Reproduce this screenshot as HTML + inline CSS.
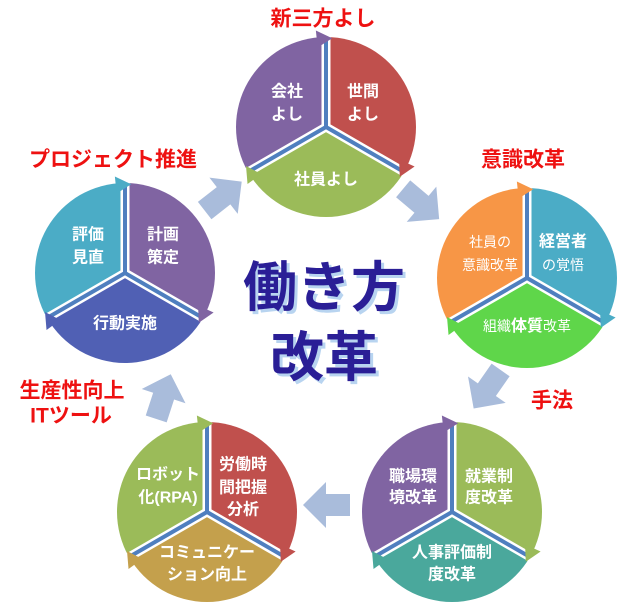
<!DOCTYPE html>
<html><head><meta charset="utf-8"><style>
html,body{margin:0;padding:0;background:#fff}
svg{display:block}
.t{font-family:"Liberation Sans","Noto Sans CJK JP",sans-serif;fill:#fff;font-weight:bold;font-size:16px;text-anchor:middle;dominant-baseline:central}
.s{font-weight:normal;font-size:14px}
.r{font-family:"Liberation Sans","Noto Sans CJK JP",sans-serif;fill:#ee1111;font-weight:bold;font-size:21px;text-anchor:middle;dominant-baseline:central}
.c{font-family:"Liberation Sans","Noto Sans CJK JP",sans-serif;fill:#2a1e96;font-weight:bold;font-size:54px;text-anchor:middle;dominant-baseline:central}
</style></head><body>
<svg width="624" height="611" viewBox="0 0 624 611" xmlns="http://www.w3.org/2000/svg">
<defs>
<g id="dv">
<path d="M0,0 L0,-92 M0,0 L79.7,46 M0,0 L-79.7,46" stroke="#fff" stroke-width="9"/>
<path d="M0,0 L0,-90 M0,0 L78,45 M0,0 L-78,45" stroke="#4f7fbf" stroke-width="4"/>
</g>
<polygon id="ar" points="-22,-11 2,-11 2,-23 25,0 2,23 2,11 -22,11" fill="#a9bcdb"/>
</defs>

<!-- connector arrows -->
<use href="#ar" transform="translate(222,197) rotate(-38)"/>
<use href="#ar" transform="translate(420,203) rotate(40)"/>
<use href="#ar" transform="translate(488,388) rotate(125)"/>
<use href="#ar" transform="translate(328,505) rotate(180)"/>
<use href="#ar" transform="translate(163,398) rotate(-72)"/>

<!-- top circle -->
<g transform="translate(326,127)">
<path d="M0,0 L0,-90 A90,90 0 0 1 77.94,45 Z" fill="#c0504d"/>
<path d="M0,0 L77.94,45 A90,90 0 0 1 -77.94,45 Z" fill="#9bbb59"/>
<path d="M0,0 L-77.94,45 A90,90 0 0 1 0,-90 Z" fill="#8064a2"/>
<use href="#dv"/>
<polygon points="73.08,32.54 88.61,39.45 73.78,49.77" fill="#c0504d"/>
<polygon points="-64.72,47.02 -78.47,57.01 -79.99,39.02" fill="#9bbb59"/>
<polygon points="-8.36,-79.56 -10.14,-96.47 6.21,-88.78" fill="#8064a2"/>
</g>
<text class="t" x="287" y="92">会社</text><text class="t" x="287" y="115">よし</text>
<text class="t" x="363" y="92">世間</text><text class="t" x="363" y="115">よし</text>
<text class="t" x="326" y="180">社員よし</text>

<!-- right circle -->
<g transform="translate(527,278)">
<path d="M0,0 L0,-90 A90,90 0 0 1 77.94,45 Z" fill="#4bacc6"/>
<path d="M0,0 L77.94,45 A90,90 0 0 1 -77.94,45 Z" fill="#5fd64a"/>
<path d="M0,0 L-77.94,45 A90,90 0 0 1 0,-90 Z" fill="#f79646"/>
<use href="#dv"/>
<polygon points="73.08,32.54 88.61,39.45 73.78,49.77" fill="#4bacc6"/>
<polygon points="-64.72,47.02 -78.47,57.01 -79.99,39.02" fill="#5fd64a"/>
<polygon points="-8.36,-79.56 -10.14,-96.47 6.21,-88.78" fill="#f79646"/>
</g>
<text class="t s" x="490" y="242">社員の</text><text class="t s" x="490" y="265">意識改革</text>
<text class="t" x="563" y="242">経営者</text><text class="t s" x="563" y="265">の覚悟</text>
<text class="t s" x="527" y="326">組織<tspan font-weight="bold" font-size="16">体質</tspan>改革</text>

<!-- bottom-right circle -->
<g transform="translate(452,512)">
<path d="M0,0 L0,-90 A90,90 0 0 1 77.94,45 Z" fill="#9bbb59"/>
<path d="M0,0 L77.94,45 A90,90 0 0 1 -77.94,45 Z" fill="#4aa89c"/>
<path d="M0,0 L-77.94,45 A90,90 0 0 1 0,-90 Z" fill="#8064a2"/>
<use href="#dv"/>
<polygon points="73.08,32.54 88.61,39.45 73.78,49.77" fill="#9bbb59"/>
<polygon points="-64.72,47.02 -78.47,57.01 -79.99,39.02" fill="#4aa89c"/>
<polygon points="-8.36,-79.56 -10.14,-96.47 6.21,-88.78" fill="#8064a2"/>
</g>
<text class="t" x="413" y="477">職場環</text><text class="t" x="413" y="498">境改革</text>
<text class="t" x="489" y="477">就業制</text><text class="t" x="489" y="498">度改革</text>
<text class="t" x="452" y="553">人事評価制</text><text class="t" x="452" y="575">度改革</text>

<!-- bottom-left circle -->
<g transform="translate(207,512)">
<path d="M0,0 L0,-90 A90,90 0 0 1 77.94,45 Z" fill="#c0504d"/>
<path d="M0,0 L77.94,45 A90,90 0 0 1 -77.94,45 Z" fill="#c4a04c"/>
<path d="M0,0 L-77.94,45 A90,90 0 0 1 0,-90 Z" fill="#9bbb59"/>
<use href="#dv"/>
<polygon points="73.08,32.54 88.61,39.45 73.78,49.77" fill="#c0504d"/>
<polygon points="-64.72,47.02 -78.47,57.01 -79.99,39.02" fill="#c4a04c"/>
<polygon points="-8.36,-79.56 -10.14,-96.47 6.21,-88.78" fill="#9bbb59"/>
</g>
<text class="t" x="168" y="475">ロボット</text><text class="t" x="168" y="498">化(RPA)</text>
<text class="t" x="243" y="465">労働時</text><text class="t" x="243" y="488">間把握</text><text class="t" x="243" y="510">分析</text>
<text class="t" x="207" y="553">コミュニケー</text><text class="t" x="207" y="575">ション向上</text>

<!-- left circle -->
<g transform="translate(125,273)">
<path d="M0,0 L0,-90 A90,90 0 0 1 77.94,45 Z" fill="#8064a2"/>
<path d="M0,0 L77.94,45 A90,90 0 0 1 -77.94,45 Z" fill="#5060b4"/>
<path d="M0,0 L-77.94,45 A90,90 0 0 1 0,-90 Z" fill="#4bacc6"/>
<use href="#dv"/>
<polygon points="73.08,32.54 88.61,39.45 73.78,49.77" fill="#8064a2"/>
<polygon points="-64.72,47.02 -78.47,57.01 -79.99,39.02" fill="#5060b4"/>
<polygon points="-8.36,-79.56 -10.14,-96.47 6.21,-88.78" fill="#4bacc6"/>
</g>
<text class="t" x="88" y="235">評価</text><text class="t" x="88" y="258">見直</text>
<text class="t" x="163" y="235">計画</text><text class="t" x="163" y="258">策定</text>
<text class="t" x="125" y="324">行動実施</text>

<!-- red labels -->
<text class="r" x="323" y="19">新三方よし</text>
<text class="r" x="523" y="160">意識改革</text>
<text class="r" x="113" y="160">プロジェクト推進</text>
<text class="r" x="72" y="391">生産性向上</text>
<text class="r" x="71" y="416">ITツール</text>
<text class="r" x="552" y="401">手法</text>

<!-- center title -->
<g>
<text class="c" x="327" y="291" fill="#b8d4f0" style="fill:#b8d4f0">働き方</text>
<text class="c" x="327" y="361" style="fill:#b8d4f0">改革</text>
<text class="c" x="324" y="288">働き方</text>
<text class="c" x="324" y="358">改革</text>
</g>
</svg>
</body></html>
